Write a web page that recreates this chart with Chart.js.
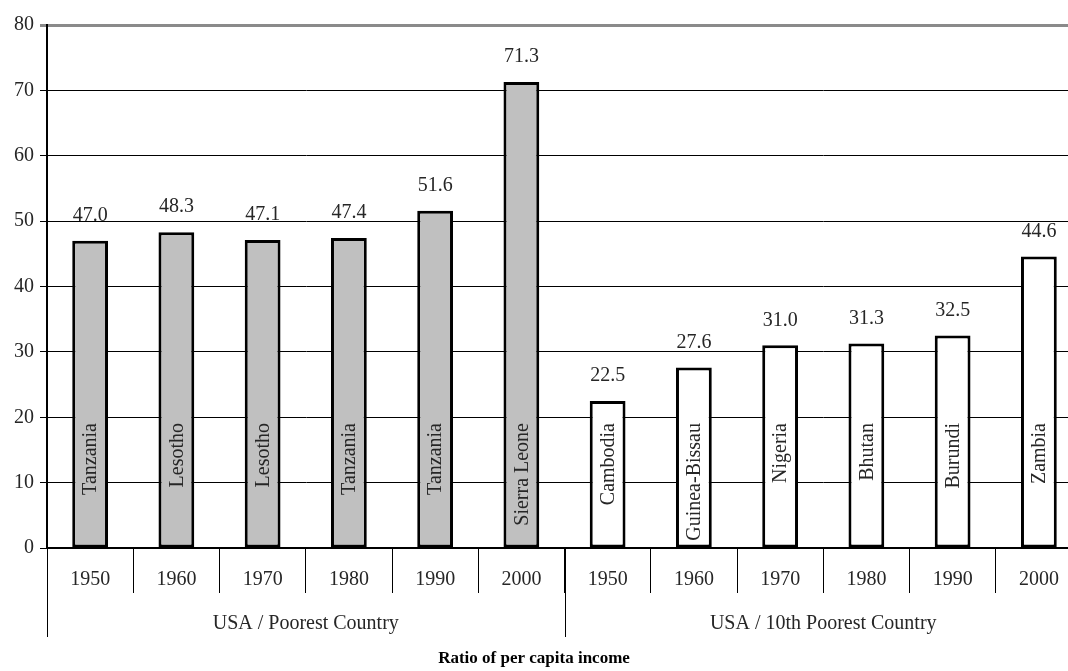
<!DOCTYPE html>
<html>
<head>
<meta charset="utf-8">
<script src="https://cdn.jsdelivr.net/npm/chart.js@4.4.1/dist/chart.umd.min.js"></script>
<style>
  html, body { margin: 0; padding: 0; background: #fff; overflow: hidden; }
  #wrap { position: relative; width: 1082px; height: 671px; }
</style>
</head>
<body>
<div id="wrap"><canvas id="c"></canvas></div>
<script>
// Decade labels, repeated for each comparison group
const years = ['1950', '1960', '1970', '1980', '1990', '2000'];
const groupNames = ['USA / Poorest Country', 'USA / 10th Poorest Country'];

// USA income divided by the poorest country's income
const poorestRatio = [47.0, 48.3, 47.1, 47.4, 51.6, 71.3];
const poorestCountry = ['Tanzania', 'Lesotho', 'Lesotho', 'Tanzania', 'Tanzania', 'Sierra Leone'];

// USA income divided by the 10th poorest country's income
const tenthRatio = [22.5, 27.6, 31.0, 31.3, 32.5, 44.6];
const tenthCountry = ['Cambodia', 'Guinea-Bissau', 'Nigeria', 'Bhutan', 'Burundi', 'Zambia'];

const yTicks = [0, 10, 20, 30, 40, 50, 60, 70, 80];
const axisTitle = 'Ratio of per capita income';

const labels = years.concat(years);
const values = poorestRatio.concat(tenthRatio);
const countries = poorestCountry.concat(tenthCountry);
const fills = poorestRatio.map(() => '#c0c0c0').concat(tenthRatio.map(() => '#ffffff'));

const FONT = '"Liberation Serif", "DejaVu Serif", serif';
const TEXT = '#262626';

const annotate = {
  id: 'annotate',
  afterDatasetsDraw(chart) {
    const ctx = chart.ctx;
    const meta = chart.getDatasetMeta(0);
    const x = chart.scales.x;
    const y = chart.scales.y;
    const base = y.getPixelForValue(0);
    ctx.save();
    ctx.fillStyle = TEXT;
    ctx.font = '20px ' + FONT;
    meta.data.forEach((bar, i) => {
      // value above each bar
      ctx.textAlign = 'center';
      ctx.textBaseline = 'middle';
      ctx.fillText(values[i].toFixed(1), bar.x, bar.y - 25);
      // country name written upward inside the bar
      ctx.save();
      ctx.translate(bar.x + 1, base - 125);
      ctx.rotate(-Math.PI / 2);
      ctx.textAlign = 'right';
      ctx.textBaseline = 'middle';
      ctx.fillText(countries[i], 0, 0);
      ctx.restore();
    });

    // group separators and group names under the decade labels
    const half = (x.getPixelForValue(1) - x.getPixelForValue(0)) / 2;
    const edges = [x.getPixelForValue(0) - half, x.getPixelForValue(5) + half, x.getPixelForValue(11) + half];
    ctx.strokeStyle = '#000';
    ctx.lineWidth = 1;
    edges.forEach(ex => {
      const px = Math.round(ex) + 0.5;
      ctx.beginPath();
      ctx.moveTo(px, base);
      ctx.lineTo(px, base + 89);
      ctx.stroke();
    });
    ctx.textAlign = 'center';
    ctx.textBaseline = 'middle';
    ctx.font = '20px ' + FONT;
    ctx.fillText(groupNames[0], (edges[0] + edges[1]) / 2, base + 76);
    ctx.fillText(groupNames[1], (edges[1] + edges[2]) / 2, base + 76);

    ctx.font = 'bold 17px ' + FONT;
    ctx.fillStyle = '#000';
    ctx.fillText(axisTitle, 534, base + 111);
    ctx.restore();
  }
};

new Chart(document.getElementById('c'), {
  type: 'bar',
  data: {
    labels: labels,
    datasets: [{
      data: values,
      backgroundColor: fills,
      borderColor: '#000',
      borderWidth: 3,
      borderSkipped: false,
      categoryPercentage: 1,
      barPercentage: 0.415
    }]
  },
  options: {
    responsive: true,
    maintainAspectRatio: false,
    animation: false,
    layout: { padding: { top: 25, right: 0, bottom: 0, left: 0 } },
    plugins: {
      legend: { display: false },
      tooltip: { enabled: false }
    },
    scales: {
      x: {
        type: 'category',
        offset: true,
        afterFit(s) { s.height = 123; },
        border: { display: true, color: '#000', width: 2 },
        grid: {
          offset: true,
          drawOnChartArea: false,
          drawTicks: true,
          tickLength: 45,
          color: '#000',
          lineWidth: 1
        },
        ticks: {
          padding: -25,
          maxRotation: 0,
          autoSkip: false,
          color: TEXT,
          font: { family: FONT, size: 20 }
        }
      },
      y: {
        min: 0,
        max: 80,
        afterFit(s) { s.width = 47; },
        afterBuildTicks(s) { s.ticks = yTicks.map(v => ({ value: v })); },
        border: { display: true, color: '#000', width: 2 },
        grid: {
          drawTicks: true,
          tickLength: 7,
          color: ctx => (ctx.tick && ctx.tick.value === 80 ? '#8a8a8a' : '#000'),
          lineWidth: ctx => (ctx.tick && ctx.tick.value === 80 ? 3 : 1)
        },
        ticks: {
          padding: 6,
          color: TEXT,
          font: { family: FONT, size: 20 }
        }
      }
    }
  },
  plugins: [annotate]
});
</script>
</body>
</html>
